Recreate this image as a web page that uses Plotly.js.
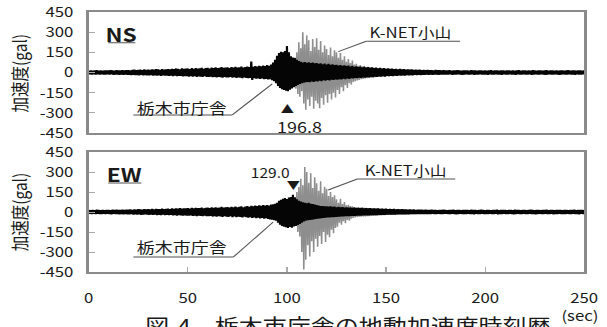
<!DOCTYPE html>
<html>
<head>
<meta charset="utf-8">
<script src="https://cdn.plot.ly/plotly-3.0.1.min.js"></script>
<style>
  html, body { margin: 0; padding: 0; background: #fff; overflow: hidden; }
  #wrap { width: 607px; height: 327px; overflow: hidden; }
  #chart { width: 506px; height: 327px; transform: scaleX(1.1996); transform-origin: 0 0; }
</style>
</head>
<body>
<div id="wrap"><div id="chart"></div></div>
<script>
// Acceleration records, one peak pair (max, min) per second, in gal.
const tickVals = [-450, -300, -150, 0, 150, 300, 450];
const timeTicks = [0, 50, 100, 150, 200, 250];
const cityStart = 0;     // 栃木市庁舎 record start (sec)
const knetStart = 95;    // K-NET小山 shown from (sec)

const nsCityHi = [
  14,16,13,15,17,14,15,13,16,15, 15,17,16,14,18,15,16,18,15,17,
  18,16,20,22,17,19,21,18,23,20, 22,19,24,21,25,23,20,26,22,24,
  26,23,28,25,30,27,24,31,27,29, 30,26,32,28,33,29,31,35,28,32,
  34,30,36,32,38,33,35,40,34,37, 38,33,40,36,42,37,39,44,36,41,
  45,40,82,43,48,44,50,46,52,48, 55,50,60,75,95,125,145,155,150,160,
  196.8,150,120,112,108,95,85,80,75,78, 72,76,70,74,68,71,65,69,62,66,
  60,64,57,61,55,58,52,56,50,53, 48,51,45,49,43,46,41,44,39,42,
  37,40,35,38,33,36,31,34,30,32, 28,31,27,29,26,28,24,27,23,25,
  22,24,21,23,20,22,19,21,18,20, 18,19,17,18,16,19,17,18,16,17,
  16,15,17,14,16,15,17,16,14,15, 15,16,14,17,15,16,14,15,16,14,
  16,14,15,17,14,16,15,14,16,15, 14,16,15,13,16,14,15,17,14,15,
  16,14,15,13,17,15,14,16,15,14, 15,17,14,16,15,13,16,14,15,16,
  14,15,17,14,16,15,14,16,15,14, 15
];
const nsCityLo = [
  -14,-15,-13,-16,-14,-15,-13,-16,-15,-14, -16,-14,-17,-15,-16,-18,-15,-17,-16,-18,
  -17,-19,-18,-20,-19,-21,-18,-22,-20,-21, -22,-20,-23,-21,-24,-22,-25,-21,-24,-23,
  -25,-23,-27,-24,-28,-26,-25,-29,-27,-28, -30,-27,-31,-28,-32,-29,-31,-33,-28,-32,
  -33,-30,-35,-32,-36,-33,-34,-38,-33,-36, -37,-33,-39,-35,-40,-36,-38,-42,-36,-40,
  -43,-40,-55,-42,-46,-44,-48,-45,-50,-47, -52,-50,-58,-65,-80,-100,-115,-125,-130,-135,
  -140,-128,-118,-110,-100,-92,-85,-80,-75,-72, -70,-72,-67,-70,-64,-67,-61,-64,-58,-61,
  -56,-59,-53,-56,-51,-54,-49,-51,-46,-49, -44,-47,-42,-45,-40,-42,-38,-40,-36,-38,
  -35,-37,-33,-35,-31,-33,-29,-31,-28,-30, -26,-28,-25,-27,-24,-25,-22,-24,-21,-23,
  -20,-22,-19,-21,-18,-20,-17,-19,-17,-18, -16,-18,-15,-17,-16,-15,-17,-16,-15,-16,
  -15,-16,-14,-17,-15,-16,-14,-15,-17,-16, -14,-15,-16,-14,-17,-15,-16,-14,-15,-16,
  -15,-17,-14,-16,-15,-14,-16,-15,-17,-14, -16,-15,-14,-16,-15,-17,-14,-15,-16,-14,
  -15,-16,-14,-17,-15,-14,-16,-15,-14,-16, -17,-15,-14,-16,-15,-14,-16,-17,-15,-14,
  -16,-15,-14,-16,-15,-17,-14,-16,-15,-14, -15
];
const ewCityHi = [
  15,13,16,14,17,15,14,16,13,15, 16,14,17,15,18,16,15,17,16,18,
  17,19,16,20,18,21,19,17,22,20, 21,19,23,20,24,22,21,25,22,24,
  25,22,27,24,28,25,30,26,28,27, 29,26,31,28,32,29,30,34,28,31,
  33,29,35,31,36,32,34,38,33,36, 37,33,39,35,41,36,38,43,36,40,
  44,39,46,42,48,44,50,46,52,49, 52,48,55,58,62,70,85,92,100,105,
  98,108,112,129.0,110,95,85,78,72,70, 66,70,62,60,55,52,48,45,44,42,
  43,40,42,38,40,36,38,35,37,34, 35,33,34,31,33,30,32,29,31,28,
  30,27,29,26,28,25,27,24,26,23, 25,22,24,21,23,20,22,19,21,19,
  20,18,19,17,19,16,18,17,18,16, 17,15,16,17,15,16,14,16,15,17,
  15,14,16,15,17,14,15,16,14,15, 16,15,14,17,15,16,14,15,17,15,
  14,16,15,14,16,15,17,14,15,16, 15,14,16,15,14,17,15,16,14,15,
  16,14,15,17,15,14,16,15,14,16, 15,17,14,15,16,14,15,16,15,14,
  16,15,14,16,15,17,14,15,16,15, 14
];
const ewCityLo = [
  -14,-16,-13,-15,-14,-16,-15,-13,-16,-14, -15,-17,-14,-16,-15,-17,-16,-18,-15,-17,
  -18,-16,-19,-17,-20,-18,-21,-19,-17,-20, -21,-19,-22,-20,-23,-21,-24,-20,-23,-22,
  -24,-22,-26,-23,-27,-24,-26,-28,-25,-27, -28,-26,-30,-27,-31,-28,-30,-32,-27,-31,
  -32,-29,-34,-31,-35,-32,-33,-37,-32,-35, -36,-32,-38,-34,-39,-35,-37,-41,-35,-39,
  -42,-38,-45,-41,-46,-43,-48,-44,-50,-47, -52,-55,-58,-62,-65,-80,-95,-105,-110,-115,
  -120,-112,-118,-108,-105,-98,-90,-80,-70,-65, -62,-60,-58,-55,-52,-50,-48,-46,-44,-42,
  -41,-40,-39,-38,-37,-36,-35,-34,-33,-32, -32,-31,-30,-30,-29,-28,-28,-27,-26,-26,
  -25,-25,-24,-24,-23,-23,-22,-22,-21,-21, -20,-20,-19,-19,-19,-18,-18,-18,-17,-17,
  -17,-17,-16,-16,-16,-16,-15,-16,-15,-16, -15,-16,-15,-14,-16,-15,-14,-16,-15,-14,
  -14,-15,-16,-14,-15,-17,-15,-14,-16,-15, -15,-14,-16,-15,-17,-14,-15,-16,-14,-15,
  -16,-15,-14,-16,-15,-14,-17,-15,-16,-14, -15,-16,-14,-15,-17,-15,-14,-16,-15,-14,
  -16,-15,-14,-15,-16,-17,-15,-14,-16,-15, -14,-16,-15,-14,-17,-15,-16,-14,-15,-16,
  -15,-14,-16,-15,-14,-16,-15,-17,-14,-15, -16
];
const nsKnetHi = [
  20,25,30,35,40,45,50,60,70,110,
  150,225,180,300,210,275,240,160,250,190,
  255,170,235,150,200,175,130,185,120,165,
  150,110,145,95,120,80,100,70,90,60,
  65,50,55,45,48,40,42,38,36,34,
  33,32,31,30,29,28,27,26,25,24,
  23,22,22,21,20,20,19,19,18,18, 17
];
const nsKnetLo = [
  -20,-25,-30,-35,-40,-45,-50,-60,-80,-120,
  -160,-180,-140,-230,-277,-200,-250,-180,-270,-210,
  -230,-265,-190,-240,-170,-225,-160,-200,-150,-185,
  -130,-160,-110,-140,-95,-115,-80,-90,-70,-65,
  -60,-55,-50,-48,-45,-42,-40,-38,-36,-34,
  -33,-32,-31,-30,-29,-28,-27,-26,-25,-24,
  -23,-22,-22,-21,-20,-20,-19,-19,-18,-18, -17
];
const ewKnetHi = [
  20,25,30,35,40,45,50,55,60,90,
  150,188,250,200,337,300,220,290,180,260,
  215,160,230,140,190,175,120,150,112,125,
  95,70,100,60,75,50,55,45,42,38,
  36,35,34,33,32,31,30,29,28,27,
  26,25,24,23,22,21,20,20,19,19,
  18,18,17,17,17,16,16,16,15,15, 15
];
const ewKnetLo = [
  -20,-25,-30,-35,-40,-45,-50,-60,-70,-100,
  -150,-184,-300,-432,-358,-250,-333,-220,-300,-200,
  -260,-180,-240,-150,-225,-170,-190,-133,-160,-120,
  -110,-80,-95,-70,-85,-60,-65,-50,-45,-40,
  -38,-36,-35,-34,-33,-32,-31,-30,-29,-28,
  -27,-26,-25,-24,-23,-22,-21,-20,-20,-19,
  -19,-18,-18,-17,-17,-16,-16,-16,-15,-15, -15
];

// Each second contributes its positive peak then its negative peak half a second later.
function band(start, hi, lo) {
  const x = [], y = [];
  for (let i = 0; i < hi.length; i++) {
    x.push(start + i, start + i + 0.5);
    y.push(hi[i], lo[i]);
  }
  return { x, y };
}
function peakOf(start, hi) {
  let k = 0;
  hi.forEach((v, i) => { if (v > hi[k]) k = i; });
  return { t: start + k, v: hi[k] };
}

const FONT = '"Noto Sans CJK JP", "Noto Sans", sans-serif';
const INK = '#1a1a1a';
const GREY = '#8e8e8e';
const BLACK = '#050505';

const nsK = band(knetStart, nsKnetHi, nsKnetLo);
const nsC = band(cityStart, nsCityHi, nsCityLo);
const ewK = band(knetStart, ewKnetHi, ewKnetLo);
const ewC = band(cityStart, ewCityHi, ewCityLo);

const traces = [
  { x: nsK.x, y: nsK.y, xaxis: 'x2', yaxis: 'y', mode: 'lines', line: { color: GREY, width: 1.3 }, hoverinfo: 'skip' },
  { x: nsC.x, y: nsC.y, xaxis: 'x2', yaxis: 'y', mode: 'lines', line: { color: BLACK, width: 1.8 }, hoverinfo: 'skip' },
  { x: ewK.x, y: ewK.y, xaxis: 'x', yaxis: 'y2', mode: 'lines', line: { color: GREY, width: 1.3 }, hoverinfo: 'skip' },
  { x: ewC.x, y: ewC.y, xaxis: 'x', yaxis: 'y2', mode: 'lines', line: { color: BLACK, width: 1.8 }, hoverinfo: 'skip' }
];

const nsPeak = peakOf(cityStart, nsCityHi);
const ewPeak = peakOf(cityStart, ewCityHi);

const frame = { showline: true, mirror: true, linecolor: '#8a8a8a', linewidth: 2,
  showgrid: false, zeroline: false, ticks: 'inside', ticklen: 5, tickcolor: '#aaaaaa', tickwidth: 1 };

function txt(xr, yr, x, y, text, size, extra) {
  return Object.assign({ xref: xr, yref: yr, x, y, text, showarrow: false,
    font: { family: FONT, size, color: INK }, xanchor: 'center', yanchor: 'middle' }, extra || {});
}
function seg(xr, yr, x0, y0, x1, y1) {
  return { type: 'line', xref: xr, yref: yr, x0, y0, x1, y1, line: { color: '#505050', width: 1 } };
}

const layout = {
  width: 506, height: 327,
  margin: { l: 74, r: 19, t: 12, b: 55 },
  paper_bgcolor: '#fff', plot_bgcolor: '#fff',
  showlegend: false,
  font: { family: FONT, size: 14, color: INK },
  xaxis: Object.assign({}, frame, { domain: [0, 1], anchor: 'y2', range: [0, 250],
    tickvals: timeTicks, ticktext: timeTicks.map(String), ticklabelstandoff: 12,
    tickfont: { family: FONT, size: 14, color: INK } }),
  xaxis2: Object.assign({}, frame, { domain: [0, 1], anchor: 'y', range: [0, 250], matches: 'x',
    tickvals: timeTicks, showticklabels: false, ticks: '' }),
  yaxis: Object.assign({}, frame, { domain: [0.5346, 1], anchor: 'x2', range: [-450, 450],
    tickvals: tickVals, ticktext: tickVals.map(String), ticklabelstandoff: 8,
    tickfont: { family: FONT, size: 14, color: INK } }),
  yaxis2: Object.assign({}, frame, { domain: [0, 0.4615], anchor: 'x', range: [-450, 450],
    tickvals: tickVals, ticktext: tickVals.map(String), ticklabelstandoff: 8,
    tickfont: { family: FONT, size: 14, color: INK } }),
  annotations: [
    // NS panel
    txt('x2', 'y', 16.6, 289, '<b>NS</b>', 19),
    txt('x2', 'y', 162.2, 300, 'K-NET小山', 14),
    txt('x2', 'y', 47.2, -263, '栃木市庁舎', 15),
    txt('x2', 'y', nsPeak.t, -262, '▲', 11),
    txt('x2', 'y', nsPeak.t + 6.5, -402, nsPeak.v.toFixed(1), 15),
    // EW panel
    txt('x', 'y2', 17.9, 292, '<b>EW</b>', 19),
    txt('x', 'y2', ewPeak.t - 11.9, 300, ewPeak.v.toFixed(1), 13),
    txt('x', 'y2', ewPeak.t, 202, '▼', 11),
    txt('x', 'y2', 159.7, 315, 'K-NET小山', 14),
    txt('x', 'y2', 47.2, -262, '栃木市庁舎', 15),
    // axis titles and caption
    txt('paper', 'paper', -0.142, 0.765, '加速度(gal)', 15.5, { textangle: -90 }),
    txt('paper', 'paper', -0.142, 0.231, '加速度(gal)', 15.5, { textangle: -90 }),
    txt('paper', 'paper', 0.991, -0.165, '(sec)', 14),
    txt('paper', 'paper', 0.524, -0.205, '図-4　栃木市庁舎の地動加速度時刻歴', 20)
  ],
  shapes: [
    // NS underlines and leaders
    seg('x2', 'y', 9.8, 222, 23.5, 222),
    seg('x2', 'y', 140.0, 232, 187.4, 232),
    seg('x2', 'y', 140.0, 232, 125.9, 155),
    seg('x2', 'y', 22.5, -316, 72.4, -316),
    seg('x2', 'y', 72.4, -316, 92.6, -84),
    // EW underlines and leaders
    seg('x', 'y2', 9.8, 217, 26.5, 217),
    seg('x', 'y2', 135.5, 247, 184.9, 247),
    seg('x', 'y2', 135.5, 247, 120.8, 165),
    seg('x', 'y2', 22.5, -337, 73.0, -337),
    seg('x', 'y2', 73.0, -337, 93.1, -75)
  ]
};

Plotly.newPlot('chart', traces, layout, { staticPlot: true, displayModeBar: false });
</script>
</body>
</html>
